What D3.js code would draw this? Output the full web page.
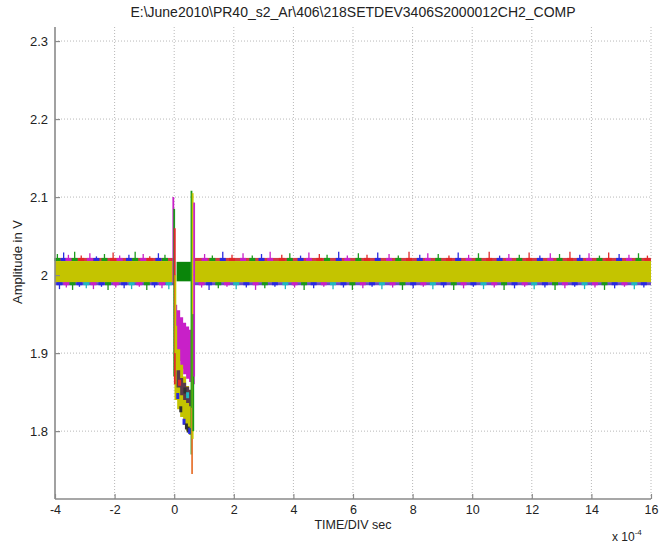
<!DOCTYPE html>
<html>
<head>
<meta charset="utf-8">
<script src="https://cdn.jsdelivr.net/npm/d3@7"></script>
<style>
  html, body { margin: 0; padding: 0; background: #fff; }
  text { font-family: "Liberation Sans", Arial, sans-serif; fill: #222; }
</style>
</head>
<body>
<svg id="chart" width="670" height="544"></svg>
<script>
// ---------------- DATA (time in units of 1e-4 s, amplitude in V) ----------------
const title = "E:\\June2010\\PR40_s2_Ar\\406\\218SETDEV3406S2000012CH2_COMP";
const xTicks = [-4, -2, 0, 2, 4, 6, 8, 10, 12, 14, 16];
const xTickLabels = ["-4", "-2", "0", "2", "4", "6", "8", "10", "12", "14", "16"];
const yTicks = [1.8, 1.9, 2.0, 2.1, 2.2, 2.3];
const yTickLabels = ["1.8", "1.9", "2", "2.1", "2.2", "2.3"];

// steady noise band (yellow core + coloured edges), before and after the event
const bandSegStart = [-4, 0.66];
const bandSegEnd   = [0.0, 16];
const bandCoreHi = 2.018, bandCoreLo = 1.991;
const bandEdgeHi = 2.022, bandEdgeLo = 1.987;

// upward noise spikes: time, peak, colour key
const upT = [-3.92,-3.71,-3.55,-3.34,-3.12,-2.83,-2.61,-2.34,-2.05,-1.83,-1.52,-1.31,-1.04,-0.82,-0.53,-0.31,
             1.02,1.28,1.63,1.94,2.31,2.62,2.93,3.22,3.61,3.88,4.24,4.52,4.87,5.13,5.52,5.81,6.18,6.47,6.83,
             7.21,7.52,7.88,8.24,8.51,8.86,9.22,9.53,9.88,10.21,10.57,10.92,11.23,11.58,11.91,12.27,12.62,
             12.93,13.28,13.61,13.92,14.27,14.58,14.93,15.26,15.58,15.88];
const upV = [2.027,2.029,2.026,2.030,2.025,2.028,2.024,2.027,2.029,2.025,2.026,2.030,2.027,2.024,2.028,2.026,
             2.027,2.025,2.030,2.026,2.028,2.025,2.027,2.030,2.026,2.028,2.025,2.029,2.027,2.026,2.030,2.025,
             2.028,2.026,2.029,2.027,2.025,2.030,2.026,2.028,2.027,2.025,2.029,2.026,2.028,2.030,2.025,2.027,
             2.026,2.029,2.025,2.028,2.027,2.030,2.026,2.028,2.025,2.029,2.027,2.026,2.028,2.025];
const upC = ["g","b","m","g","r","m","b","g","r","m","b","g","m","r","b","g",
             "m","g","b","r","m","g","b","m","r","g","b","m","r","g","b","m","g","r","b",
             "m","g","r","b","m","g","r","b","m","g","r","b","m","g","r","b","m",
             "g","r","b","m","g","r","b","m","g","r"];

// downward noise spikes: time, trough, colour key
const dnT = [-3.85,-3.62,-3.41,-3.18,-2.95,-2.71,-2.44,-2.22,-1.96,-1.68,-1.43,-1.17,-0.92,-0.66,-0.41,-0.18,
             0.92,1.17,1.48,1.77,2.08,2.42,2.73,3.04,3.38,3.73,4.04,4.36,4.68,5.02,5.33,5.68,5.98,6.33,6.64,
             6.97,7.33,7.66,8.02,8.36,8.68,9.04,9.38,9.71,10.04,10.38,10.74,11.07,11.42,11.76,12.08,12.44,
             12.78,13.11,13.44,13.77,14.12,14.44,14.78,15.11,15.44,15.76];
const dnV = [1.982,1.984,1.981,1.985,1.983,1.982,1.985,1.981,1.984,1.983,1.982,1.985,1.981,1.984,1.983,1.982,
             1.984,1.981,1.983,1.985,1.982,1.984,1.981,1.983,1.985,1.982,1.984,1.981,1.983,1.985,1.982,1.984,
             1.981,1.983,1.985,1.982,1.984,1.981,1.983,1.985,1.982,1.984,1.981,1.983,1.985,1.982,1.984,1.981,
             1.983,1.985,1.982,1.984,1.981,1.983,1.985,1.982,1.984,1.981,1.983,1.985,1.982,1.984];
const dnC = ["b","m","g","b","c","m","b","g","m","b","c","m","g","b","m","c",
             "m","b","g","m","c","b","m","g","b","c","m","g","b","m","c","b","g","m","b",
             "c","m","g","b","m","c","b","g","m","b","c","m","g","b","m","c","b",
             "g","m","b","c","m","g","b","m","c","b"];

// event: dark-green block held at the band level
const blockT = [0.08, 0.56];
const blockV = [1.992, 2.017];

// event: decaying trace envelopes (time, upper, lower)
const yelT  = [0.01, 0.10, 0.20, 0.30, 0.40, 0.50, 0.60];
const yelHi = [1.935, 1.905, 1.885, 1.870, 1.858, 1.848, 1.840];
const yelLo = [1.840, 1.828, 1.818, 1.808, 1.800, 1.795, 1.790];
const darkT  = [0.08, 0.20, 0.30, 0.40, 0.50, 0.60];
const darkHi = [1.878, 1.868, 1.862, 1.857, 1.853, 1.850];
const darkLo = [1.856, 1.846, 1.840, 1.836, 1.832, 1.830];
const magT  = [0.03, 0.10, 0.20, 0.30, 0.40, 0.50, 0.60, 0.69];
const magHi = [1.962, 1.955, 1.946, 1.939, 1.934, 1.930, 1.928, 1.925];
const magLo = [1.900, 1.890, 1.880, 1.873, 1.867, 1.863, 1.860, 1.858];

// event: sharp vertical excursions (time, low, high, colour key)
const evT  = [-0.03, 0.00, 0.02, 0.04, 0.58, 0.60, 0.62, 0.64, 0.67];
const evLo = [1.990, 1.870, 1.860, 1.900, 1.770, 1.745, 1.790, 1.800, 1.870];
const evHi = [2.100, 2.085, 2.060, 2.000, 2.108, 1.830, 2.105, 1.950, 2.093];
const evC  = ["m", "g", "r", "y", "g", "o", "y", "g", "m"];

// dark specks in the decaying traces
const speckT = [0.12, 0.22, 0.33, 0.41, 0.47, 0.52, 0.18, 0.36, 0.45];
const speckV = [1.845, 1.828, 1.812, 1.806, 1.802, 1.800, 1.862, 1.852, 1.846];
const speckC = ["b", "k", "b", "k", "k", "b", "r", "k", "c"];

// ---------------- DRAWING ----------------
const colors = { b: "#2a2ae0", g: "#1a9a1a", r: "#e02828", c: "#20b8c0", m: "#c820c8",
                 y: "#c4c400", k: "#303030", o: "#e87838" };
const W = 670, H = 544;
const svg = d3.select("#chart");
svg.append("rect").attr("width", W).attr("height", H).attr("fill", "#fff");

const x = d3.scaleLinear().domain([-4, 16]).range([55, 651]);
const y = d3.scaleLinear().domain([1.713, 2.318]).range([499, 27]);

// grid
const grid = svg.append("g").attr("stroke", "#b8b8b8").attr("stroke-width", 1)
  .attr("stroke-dasharray", "1,2");
grid.selectAll("line.v").data(xTicks.slice(1)).join("line")
  .attr("x1", d => x(d)).attr("x2", d => x(d)).attr("y1", y.range()[0]).attr("y2", y.range()[1]);
grid.selectAll("line.h").data(yTicks).join("line")
  .attr("x1", x(-4)).attr("x2", x(16)).attr("y1", d => y(d)).attr("y2", d => y(d));

const plot = svg.append("g");

// noise band segments
const segs = bandSegStart.map((s, i) => ({ s, e: bandSegEnd[i] }));
plot.selectAll("rect.edgeHi").data(segs).join("rect")
  .attr("x", d => x(d.s)).attr("width", d => x(d.e) - x(d.s))
  .attr("y", y(bandEdgeHi)).attr("height", y(bandCoreHi) - y(bandEdgeHi))
  .attr("fill", "#d23c46");
plot.selectAll("rect.edgeLo").data(segs).join("rect")
  .attr("x", d => x(d.s)).attr("width", d => x(d.e) - x(d.s))
  .attr("y", y(bandCoreLo)).attr("height", y(bandEdgeLo) - y(bandCoreLo))
  .attr("fill", "#6a4cc8");

// spikes
const ups = upT.map((t, i) => ({ t, v: upV[i], c: upC[i] }));
const dns = dnT.map((t, i) => ({ t, v: dnV[i], c: dnC[i] }));
plot.selectAll("rect.updash").data(ups).join("rect")
  .attr("x", d => x(d.t) - 3).attr("width", 6)
  .attr("y", y(bandEdgeHi)).attr("height", y(bandCoreHi) - y(bandEdgeHi))
  .attr("fill", d => colors[d.c]);
plot.selectAll("rect.dndash").data(dns).join("rect")
  .attr("x", d => x(d.t) - 3).attr("width", 6)
  .attr("y", y(bandCoreLo)).attr("height", y(bandEdgeLo) - y(bandCoreLo))
  .attr("fill", d => colors[d.c]);
plot.selectAll("line.up").data(ups).join("line")
  .attr("x1", d => x(d.t)).attr("x2", d => x(d.t))
  .attr("y1", y(bandCoreHi)).attr("y2", d => y(d.v))
  .attr("stroke", d => colors[d.c]).attr("stroke-width", 1.3);
plot.selectAll("line.dn").data(dns).join("line")
  .attr("x1", d => x(d.t)).attr("x2", d => x(d.t))
  .attr("y1", y(bandCoreLo)).attr("y2", d => y(d.v))
  .attr("stroke", d => colors[d.c]).attr("stroke-width", 1.3);

// yellow core on top
plot.selectAll("rect.core").data(segs).join("rect")
  .attr("x", d => x(d.s)).attr("width", d => x(d.e) - x(d.s))
  .attr("y", y(bandCoreHi)).attr("height", y(bandCoreLo) - y(bandCoreHi))
  .attr("fill", colors.y);

// green block
plot.append("rect")
  .attr("x", x(blockT[0])).attr("width", x(blockT[1]) - x(blockT[0]))
  .attr("y", y(blockV[1])).attr("height", y(blockV[0]) - y(blockV[1]))
  .attr("fill", "#0a850a");

// decaying envelopes
function env(T, Hi, Lo, col) {
  const pts = T.map((t, i) => ({ t, hi: Hi[i], lo: Lo[i] }));
  plot.append("path").datum(pts)
    .attr("d", d3.area().x(d => x(d.t)).y0(d => y(d.lo)).y1(d => y(d.hi)).curve(d3.curveStepAfter))
    .attr("fill", col);
}
env(magT, magHi, magLo, colors.m);
env(yelT, yelHi, yelLo, colors.y);
env(darkT, darkHi, darkLo, "#5a3a4a");

// specks
const specks = speckT.map((t, i) => ({ t, v: speckV[i], c: speckC[i] }));
plot.selectAll("rect.speck").data(specks).join("rect")
  .attr("x", d => x(d.t) - 1.5).attr("width", 3)
  .attr("y", d => y(d.v) - 3).attr("height", 6)
  .attr("fill", d => colors[d.c]);

// sharp excursions
const evs = evT.map((t, i) => ({ t, lo: evLo[i], hi: evHi[i], c: evC[i] }));
plot.selectAll("line.ev").data(evs).join("line")
  .attr("x1", d => x(d.t)).attr("x2", d => x(d.t))
  .attr("y1", d => y(d.lo)).attr("y2", d => y(d.hi))
  .attr("stroke", d => colors[d.c]).attr("stroke-width", 1.8);

// axes
const axisCol = "#8a8a8a";
const xAxis = svg.append("g").attr("transform", `translate(0,${y.range()[0]})`)
  .call(d3.axisBottom(x).tickValues(xTicks).tickSize(-5).tickPadding(6).tickFormat((d, i) => xTickLabels[i]));
const yAxis = svg.append("g").attr("transform", `translate(${x.range()[0]},0)`)
  .call(d3.axisLeft(y).tickValues(yTicks).tickSize(-5).tickPadding(7).tickFormat((d, i) => yTickLabels[i]));
[xAxis, yAxis].forEach(g => {
  g.select(".domain").attr("stroke", axisCol).attr("stroke-width", 1.6);
  g.selectAll(".tick line").attr("stroke", axisCol).attr("stroke-width", 1.2);
  g.selectAll(".tick text").attr("fill", "#222").style("font-size", "13px")
    .style("font-family", "'Liberation Sans', Arial, sans-serif");
});
xAxis.selectAll(".tick text").style("font-size", "12.5px");
xAxis.select(".domain").attr("d", `M${x.range()[0]},0H${x.range()[1]}`);
yAxis.select(".domain").attr("d", `M0,${y.range()[0]}V${y.range()[1]}`);

// titles
svg.append("text").attr("x", 353).attr("y", 17).attr("text-anchor", "middle")
  .style("font-size", "14px").text(title);
svg.append("text").attr("x", 353).attr("y", 529).attr("text-anchor", "middle")
  .style("font-size", "12.5px").text("TIME/DIV sec");
svg.append("text").attr("transform", "translate(22,262) rotate(-90)").attr("text-anchor", "middle")
  .style("font-size", "13px").text("Amplitude in V");
const ex = svg.append("text").attr("x", 612).attr("y", 541).style("font-size", "12px");
ex.append("tspan").text("x 10");
ex.append("tspan").attr("dy", -6).style("font-size", "8px").text("-4");
</script>
</body>
</html>
